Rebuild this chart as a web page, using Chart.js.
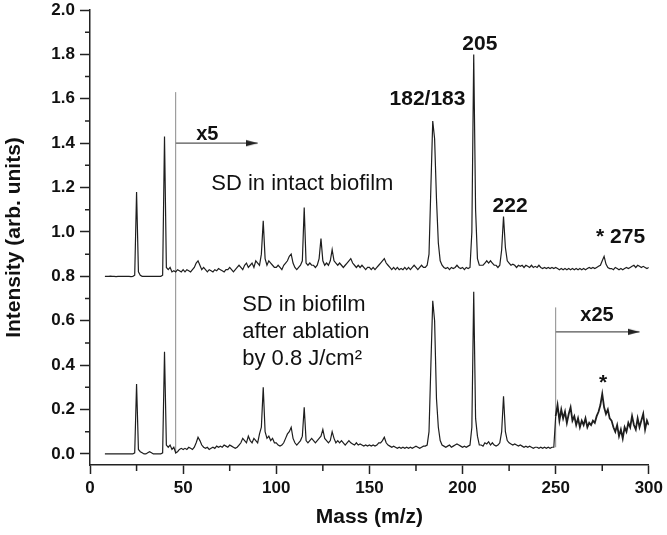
<!DOCTYPE html>
<html>
<head>
<meta charset="utf-8">
<script src="https://cdn.jsdelivr.net/npm/chart.js@4/dist/chart.umd.min.js"></script>
<style>
  html, body { margin: 0; padding: 0; background: #fff; }
  #wrap { width: 667px; height: 535px; }
</style>
</head>
<body>
<div id="wrap"><canvas id="spec" width="667" height="535"></canvas></div>
<script>
// mass grid: 8 .. 300 m/z, one sample per unit
const massStart = 8;
const massEnd = 300;

// SD in intact biofilm (offset by 0.8, x5 above m/z 46)
const upperTrace = [
    0.80, 0.80,
    0.80, 0.801, 0.80, 0.80, 0.799, 0.80, 0.80, 0.80, 0.80, 0.80,
    0.80, 0.80, 0.799, 0.80, 0.805, 1.18, 0.82, 0.805, 0.80, 0.80,
    0.80, 0.80, 0.80, 0.80, 0.80, 0.80, 0.80, 0.80, 0.80, 0.805,
    1.43, 0.84, 0.83, 0.84, 0.82, 0.825, 0.82, 0.83, 0.825, 0.82,
    0.83, 0.82, 0.83, 0.825, 0.82, 0.83, 0.84, 0.86, 0.87, 0.85,
    0.83, 0.84, 0.83, 0.82, 0.83, 0.825, 0.82, 0.83, 0.825, 0.835,
    0.83, 0.825, 0.82, 0.83, 0.83, 0.84, 0.83, 0.82, 0.83, 0.84,
    0.85, 0.84, 0.83, 0.85, 0.86, 0.84, 0.85, 0.86, 0.84, 0.87,
    0.86, 0.85, 0.90, 1.05, 0.88, 0.85, 0.87, 0.86, 0.85, 0.84,
    0.84, 0.85, 0.84, 0.83, 0.85, 0.86, 0.87, 0.89, 0.90, 0.86,
    0.84, 0.83, 0.84, 0.85, 0.87, 1.11, 0.86, 0.85, 0.86, 0.85,
    0.85, 0.84, 0.85, 0.88, 0.97, 0.87, 0.85, 0.86, 0.85, 0.87,
    0.92, 0.87, 0.86, 0.85, 0.86, 0.85, 0.84, 0.85, 0.86, 0.87,
    0.88, 0.86, 0.85, 0.84, 0.85, 0.84, 0.85, 0.84, 0.83, 0.84,
    0.84, 0.83, 0.84, 0.83, 0.84, 0.85, 0.86, 0.87, 0.88, 0.86,
    0.85, 0.84, 0.83, 0.84, 0.83, 0.84, 0.83, 0.835, 0.83, 0.84,
    0.83, 0.84, 0.83, 0.84, 0.85, 0.84, 0.83, 0.84, 0.85, 0.84,
    0.84, 0.85, 0.90, 1.20, 1.50, 1.42, 1.15, 0.95, 0.87, 0.85,
    0.84, 0.835, 0.84, 0.83, 0.84, 0.835, 0.84, 0.85, 0.84, 0.835,
    0.84, 0.83, 0.84, 0.835, 0.84, 1.00, 1.80, 1.10, 0.88, 0.85,
    0.85, 0.85, 0.86, 0.87, 0.86, 0.87, 0.86, 0.85, 0.85, 0.84,
    0.85, 0.92, 1.07, 0.93, 0.87, 0.86, 0.85, 0.855, 0.85, 0.84,
    0.85, 0.845, 0.85, 0.84, 0.85, 0.845, 0.84, 0.85, 0.84, 0.845,
    0.84, 0.85, 0.84, 0.835, 0.84, 0.835, 0.84, 0.835, 0.84, 0.835,
    0.84, 0.835, 0.83, 0.835, 0.83, 0.835, 0.83, 0.835, 0.83, 0.835,
    0.83, 0.835, 0.83, 0.835, 0.83, 0.835, 0.83, 0.835, 0.84, 0.835,
    0.84, 0.835, 0.84, 0.845, 0.85, 0.87, 0.89, 0.855, 0.84, 0.835,
    0.835, 0.83, 0.84, 0.835, 0.83, 0.835, 0.83, 0.835, 0.84, 0.835,
    0.84, 0.845, 0.85, 0.84, 0.85, 0.845, 0.84, 0.845, 0.84, 0.835, 0.84
];

// SD in biofilm after ablation (x5 above m/z 46, x25 above m/z 250)
const lowerTrace = [
    0.0, 0.0,
    0.0, 0.0, 0.0, 0.0, 0.0, 0.0, 0.0, 0.0, 0.0, 0.0,
    0.0, 0.0, 0.0, 0.0, 0.005, 0.315, 0.02, 0.01, 0.005, 0.0,
    0.0, 0.005, 0.01, 0.005, 0.0, 0.0, 0.0, 0.0, 0.0, 0.005,
    0.46, 0.04, 0.03, 0.04, 0.02, 0.03, 0.005, 0.01, 0.02, 0.025,
    0.02, 0.025, 0.02, 0.03, 0.025, 0.02, 0.03, 0.05, 0.075, 0.06,
    0.04, 0.03, 0.025, 0.03, 0.02, 0.025, 0.03, 0.025, 0.035, 0.03,
    0.035, 0.03, 0.04, 0.035, 0.03, 0.04, 0.035, 0.03, 0.025, 0.03,
    0.04, 0.05, 0.07, 0.06, 0.05, 0.08, 0.06, 0.05, 0.07, 0.06,
    0.05, 0.09, 0.12, 0.30, 0.10, 0.07, 0.08, 0.06, 0.07, 0.05,
    0.05, 0.04, 0.035, 0.04, 0.05, 0.07, 0.09, 0.10, 0.12, 0.07,
    0.05, 0.04, 0.05, 0.06, 0.08, 0.21, 0.06, 0.05, 0.06, 0.07,
    0.06, 0.05, 0.06, 0.07, 0.08, 0.11, 0.07, 0.06, 0.05, 0.06,
    0.10, 0.07, 0.05, 0.06, 0.05, 0.06, 0.05, 0.04, 0.05, 0.06,
    0.05, 0.045, 0.04, 0.05, 0.04, 0.045, 0.04, 0.035, 0.04, 0.035,
    0.04, 0.035, 0.04, 0.035, 0.04, 0.05, 0.05, 0.06, 0.075, 0.05,
    0.04, 0.035, 0.03, 0.035, 0.03, 0.025, 0.03, 0.025, 0.03, 0.025,
    0.03, 0.025, 0.03, 0.025, 0.03, 0.035, 0.03, 0.025, 0.03, 0.035,
    0.035, 0.04, 0.10, 0.40, 0.69, 0.60, 0.25, 0.12, 0.06, 0.04,
    0.035, 0.03, 0.035, 0.04, 0.03, 0.035, 0.04, 0.045, 0.04, 0.035,
    0.03, 0.035, 0.03, 0.035, 0.04, 0.12, 0.73, 0.16, 0.08, 0.04,
    0.04, 0.035, 0.05, 0.045, 0.055, 0.04, 0.05, 0.04, 0.035, 0.04,
    0.05, 0.10, 0.26, 0.10, 0.06, 0.05, 0.045, 0.04, 0.045, 0.04,
    0.035, 0.04, 0.035, 0.03, 0.035, 0.03, 0.035, 0.03, 0.025, 0.03,
    0.03, 0.025, 0.03, 0.025, 0.03, 0.025, 0.03, 0.025, 0.03, 0.03,
    0.17, 0.22, 0.15, 0.20, 0.16, 0.19, 0.14, 0.18, 0.21, 0.15,
    0.17, 0.13, 0.16, 0.12, 0.15, 0.13, 0.16, 0.12, 0.14, 0.13,
    0.15, 0.14, 0.17, 0.19, 0.22, 0.27, 0.21, 0.18, 0.20, 0.16,
    0.15, 0.12, 0.10, 0.13, 0.08, 0.11, 0.07, 0.12, 0.10, 0.14,
    0.12, 0.17, 0.13, 0.11, 0.16, 0.12, 0.15, 0.18, 0.11, 0.15, 0.13
];

// scale-change markers: [mass, from, to] and arrows: [fromMass, toMass, level]
const markerLines = [[46, 0.0, 1.63], [250, 0.03, 0.66]];
const markerArrows = [[46, 90, 1.40], [250, 295, 0.55]];

// text labels in data coordinates
const labels = [
    { text: 'x5', x: 63, y: 1.414, bold: true, size: 20, align: 'center' },
    { text: 'SD in intact biofilm', x: 65.1, y: 1.189, bold: false, size: 22, align: 'left' },
    { text: '182/183', x: 181.2, y: 1.572, bold: true, size: 21, align: 'center' },
    { text: '205', x: 209.3, y: 1.82, bold: true, size: 21, align: 'center' },
    { text: '222', x: 225.5, y: 1.09, bold: true, size: 21, align: 'center' },
    { text: '* 275', x: 271.7, y: 0.95, bold: true, size: 21, align: 'left' },
    { text: 'SD in biofilm', x: 81.7, y: 0.644, bold: false, size: 22, align: 'left' },
    { text: 'after ablation', x: 81.7, y: 0.523, bold: false, size: 22, align: 'left' },
    { text: 'by 0.8 J/cm\u00B2', x: 81.7, y: 0.401, bold: false, size: 22, align: 'left' },
    { text: 'x25', x: 272.2, y: 0.599, bold: true, size: 20, align: 'center' },
    { text: '*', x: 275.4, y: 0.293, bold: true, size: 21, align: 'center' }
];

const FONT = "'Liberation Sans', Arial, sans-serif";
const INK = '#1e1e1e';

const mass = [];
for (let m = massStart; m <= massEnd; m++) mass.push(m);
const toPoints = vals => vals.map((v, i) => ({ x: mass[i], y: v }));

// small arrowhead used as the end point style
const arrowHead = document.createElement('canvas');
arrowHead.width = 24; arrowHead.height = 8;
(function () {
    const c = arrowHead.getContext('2d');
    c.fillStyle = '#222';
    c.beginPath();
    c.moveTo(0, 0.8); c.lineTo(12, 4); c.lineTo(0, 7.2);
    c.closePath();
    c.fill();
})();

const datasets = [
    { data: toPoints(upperTrace), borderColor: INK, borderWidth: 1.2 },
    { data: toPoints(lowerTrace), borderColor: INK, borderWidth: 1.2,
      segment: { borderWidth: c => c.p0.parsed.x >= 250 ? 1.8 : undefined } }
];
markerLines.forEach(([m, a, b]) => datasets.push({
    data: [{ x: m, y: a }, { x: m, y: b }], borderColor: '#8a8a8a', borderWidth: 1
}));
markerArrows.forEach(([m0, m1, lvl]) => datasets.push({
    data: [{ x: m0, y: lvl }, { x: m1, y: lvl }], borderColor: '#555', borderWidth: 1.2,
    pointRadius: [0, 6], pointStyle: ['circle', arrowHead]
}));

// minor ticks drawn through the scales
const minorTicks = {
    id: 'minorTicks',
    afterDraw(chart) {
        const { ctx, scales: { x, y } } = chart;
        ctx.save();
        ctx.strokeStyle = '#222';
        ctx.lineWidth = 1.5;
        ctx.beginPath();
        for (let m = 25; m < 300; m += 50) {
            const px = x.getPixelForValue(m);
            ctx.moveTo(px, y.bottom); ctx.lineTo(px, y.bottom + 6);
        }
        for (let k = 1; k < 20; k += 2) {
            const py = y.getPixelForValue(k / 10);
            ctx.moveTo(x.left - 5, py); ctx.lineTo(x.left, py);
        }
        ctx.stroke();
        ctx.restore();
    }
};

const textLabels = {
    id: 'textLabels',
    afterDatasetsDraw(chart) {
        const { ctx, scales: { x, y } } = chart;
        ctx.save();
        ctx.fillStyle = '#111';
        ctx.textBaseline = 'alphabetic';
        labels.forEach(l => {
            ctx.font = (l.bold ? 'bold ' : '') + l.size + 'px ' + FONT;
            ctx.textAlign = l.align;
            ctx.fillText(l.text, x.getPixelForValue(l.x), y.getPixelForValue(l.y));
        });
        ctx.restore();
    }
};

new Chart(document.getElementById('spec').getContext('2d'), {
    type: 'line',
    data: { datasets: datasets },
    options: {
        responsive: false,
        animation: false,
        events: [],
        layout: { padding: { top: 0, right: 15, bottom: 0, left: 0 } },
        elements: { point: { radius: 0 }, line: { tension: 0 } },
        plugins: { legend: { display: false }, tooltip: { enabled: false } },
        scales: {
            x: {
                type: 'linear', min: 0, max: 300,
                ticks: { stepSize: 50, color: '#111', padding: 4, maxRotation: 0,
                         font: { family: FONT, size: 17, weight: 'bold' } },
                grid: { drawOnChartArea: false, tickLength: 9, tickWidth: 1.5, tickColor: '#222' },
                border: { color: '#222', width: 1.5 },
                title: { display: true, text: 'Mass (m/z)', color: '#111',
                         font: { family: FONT, size: 21, weight: 'bold', lineHeight: 1.2 },
                         padding: { top: 0, bottom: 5 } },
                afterFit: s => { s.height = 70; }
            },
            y: {
                min: -0.05, max: 2.0,
                ticks: { stepSize: 0.2, includeBounds: false, color: '#111', padding: 5,
                         font: { family: FONT, size: 17, weight: 'bold' },
                         callback: v => v.toFixed(1) },
                grid: { drawOnChartArea: false, tickLength: 10, tickWidth: 1.5, tickColor: '#222' },
                border: { color: '#222', width: 1.5 },
                title: { display: true, text: 'Intensity (arb. units)', color: '#111',
                         font: { family: FONT, size: 21, weight: 'bold', lineHeight: 1.2 },
                         padding: { top: 2, bottom: 0 } },
                afterFit: s => { s.width = 90; s.paddingTop = 10; s.paddingBottom = 0; }
            }
        }
    },
    plugins: [minorTicks, textLabels]
});
</script>
</body>
</html>
